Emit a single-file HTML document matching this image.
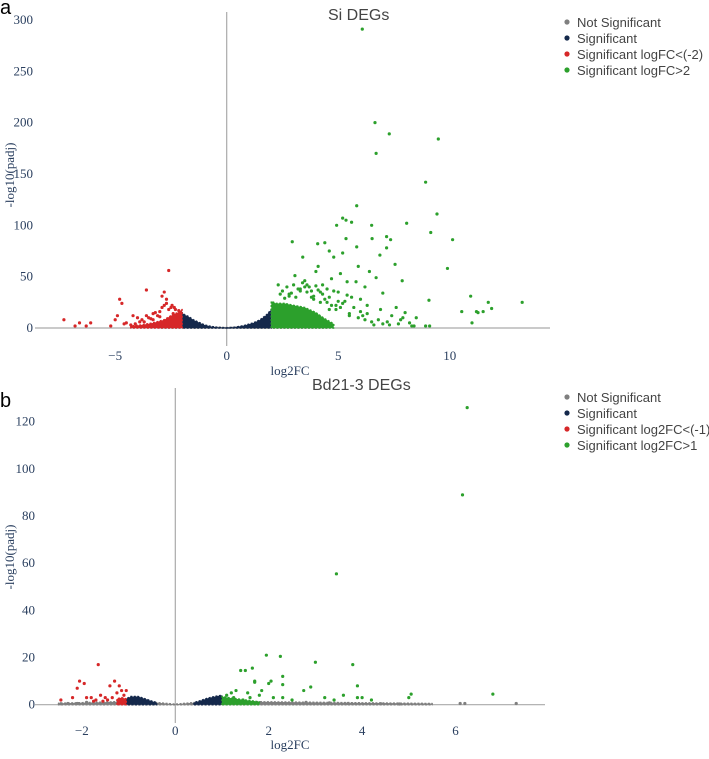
<!DOCTYPE html>
<html><head><meta charset="utf-8">
<style>
body{margin:0;background:#fff;width:709px;height:754px;overflow:hidden}
svg text{font-family:"Liberation Serif",serif}
.sans{font-family:"Liberation Sans",sans-serif !important}
</style></head>
<body>
<svg id="chart" width="709" height="754" viewBox="0 0 709 754"></svg>
<script>
// ---------- Panel A (Si DEGs) data ----------
const aRedX=[-7.3,-6.8,-6.6,-6.3,-6.1,-5.2,-5.0,-4.9,-4.8,-4.7,-4.6,-4.5,-4.3,-4.2,-4.0,-3.8,-3.6,-3.5,-3.3,-3.2,-3.1,-2.9,-2.8,-2.8,-2.7,-2.6,-2.6,-2.5,-2.4,-2.3,-2.2,-2.1,-3.9,-3.4,-3.0,-2.45,-2.35,-2.15,-4.1,-3.7,-3.6,-3.3,-3.0,-2.9,-2.7];
const aRedY=[8,2,5,2,5,2,8,12,28,24,4,5,3,12,10,8,37,10,8,15,12,31,35,22,28,56,18,20,14,18,10,15,6,9,11,22,20,17,4,6,12,14,16,20,24];
const aGreenX=[6.08,6.65,7.29,9.49,6.7,8.92,9.43,8.07,6.5,9.15,10.13,9.9,7.87,7.55,7.17,7.35,6.52,6.87,7.17,9.07,10.94,11.73,11.88,13.25,10.54,11.2,11.27,11.5,11.0,8.92,9.1,6.7,5.83,5.2,5.35,5.6,4.93,5.35,2.94,4.4,4.08,5.83,4.6,3.41,4.8,5.2,4.1,3.06,5.1,2.31,4.0,5.4,4.5,5.0,5.6,6.0,6.3,6.9,7.4,7.8,8.2,8.5,6.2,5.8,4.7,4.3,3.8,3.6,3.3,3.1,2.8,2.6,5.9,6.4,7.0,7.6,8.0,4.2,4.9,5.5,3.9,3.5,6.6,7.2,8.3,5.3,4.6,6.1,6.8,7.7,
2.5,2.7,2.9,3.2,3.4,3.6,3.7,3.9,4.1,4.3,4.4,4.6,4.8,5.0,5.2,5.4,5.7,6.0,6.3,2.4,2.8,3.0,3.3,3.5,3.8,4.0,4.2,4.5,4.7,4.9,5.1,5.5,5.9,6.2,6.5,7.0,7.3,7.9,8.4];
const aGreenY=[291,200,189,184,170,142,111,102,100,93,86,58,46,62,89,86,87,71,78,27,31,25,19,25,16,16,15,16,5,2,2,49,119,107,105,103,100,87,84,83,82,79,75,69,69,73,60,51,53,42,55,45,38,35,30,28,22,18,12,8,5,10,40,45,48,33,36,42,38,30,33,29,60,55,34,20,15,25,22,14,28,40,3,6,2,26,18,12,8,4,
36,40,34,38,44,35,40,31,37,42,28,30,36,26,24,32,20,16,14,33,31,42,36,46,30,41,35,25,22,18,20,12,10,8,6,4,3,10,2];
// dense-band envelopes: x positions and max -log10(padj)
const aNavyLX=[-2.0,-1.9,-1.7,-1.5,-1.2,-1.0,-0.7,-0.4,0];
const aNavyLY=[15,13,11,8,5,3,1.5,0.5,0];
const aNavyRX=[0,0.4,0.8,1.2,1.5,1.8,2.0];
const aNavyRY=[0,0.8,2.5,5,8,13,18];
const aRedBX=[-4.3,-3.8,-3.3,-2.8,-2.5,-2.2,-2.0];
const aRedBY=[2,3,5,8,12,15,18];
const aGreenBX=[2.0,2.2,2.6,3.0,3.5,4.0,4.4,4.8];
const aGreenBY=[26,24,24,22,20,15,9,4];
const aXTicks=[-5,0,5,10];
const aYTicks=[0,50,100,150,200,250,300];

// ---------- Panel B (Bd21-3 DEGs) data ----------
const bRedX=[-2.45,-2.2,-2.1,-2.05,-1.95,-1.9,-1.8,-1.7,-1.65,-1.6,-1.5,-1.4,-1.3,-1.25,-1.2,-1.15,-1.1,-1.05,-1.35,-1.45,-1.75,-1.55];
const bRedY=[2,3,7,10,9,3,3,2,17,4,3,8,10,5,8,6,4,6,3,2,1.5,1.5];
const bGreenX=[1.4,1.5,1.65,1.7,1.7,1.8,1.95,2.0,2.05,2.25,2.3,2.3,2.3,2.75,2.9,3.0,3.2,3.4,3.45,3.6,3.8,3.9,3.9,4.0,4.2,5.0,5.05,6.15,6.25,6.8,1.2,1.3,1.55,1.85,2.1,2.5,1.1,1.25,1.45,1.6];
const bGreenY=[14.5,14.5,15.5,10,9.5,4,21,9,10,20.5,12,8.5,3,6,7.5,18,3,2,55.5,4,17,8,3,3,2,3,4.5,89,126,4.5,5,6,5,6,3,2,4,3,2,3];
const bGreyX=[7.3,6.1,6.2,4.8,4.4,3.7,-2.3,-2.45,-2.1,-1.9,2.8,3.3];
const bGreyY=[0.5,0.5,0.5,0.3,0.4,0.5,0.5,0.4,0.5,1,1,0.8];
const bNavyLX=[-1.05,-0.95,-0.8,-0.65,-0.5,-0.4];
const bNavyLY=[2.5,3.5,3.5,2.5,1.5,0.9];
const bNavyRX=[0.4,0.55,0.7,0.85,1.0];
const bNavyRY=[0.9,1.8,2.8,3.5,4];
const bRedBX=[-1.25,-1.15,-1.05];
const bRedBY=[2.5,3,2.5];
const bGreenBX=[1.0,1.2,1.5,1.8];
const bGreenBY=[3.5,2.8,2,1.2];
const bGreyBX=[-2.5,-1.5,-1.0,-0.4,0,0.4,1.0,2.0,3.0,4.0,5.5];
const bGreyBY=[0.6,1.1,1.4,0.9,0.2,0.9,1.4,1.2,1.0,0.8,0.5];
const bXTicks=[-2,0,2,4,6];
const bYTicks=[0,20,40,60,80,100,120];

const NS='http://www.w3.org/2000/svg';
const svg=document.getElementById('chart');
function mk(tag,attrs,parent){const e=document.createElementNS(NS,tag);for(const k in attrs)e.setAttribute(k,attrs[k]);(parent||svg).appendChild(e);return e;}

function panel(p){
  const g=mk('g',{});
  
  
  const sx=v=>p.x0+v*p.kx, sy=v=>p.y0-v*p.ky;
  const xl=mk('line',{x1:p.xa0,x2:p.xa1,y1:p.y0,y2:p.y0,stroke:'#aaa','stroke-width':1.2},g);
  
  
  const yl=mk('line',{x1:p.x0,x2:p.x0,y1:p.ya0,y2:p.ya1,stroke:'#aaa','stroke-width':1.2},g);
  
  
  function band(X,Y,color,nm){
    let d='M'+sx(X[0])+','+sy(0);
    for(let i=0;i<X.length;i++)d+=' L'+sx(X[i])+','+sy(Y[i]);
    d+=' L'+sx(X[X.length-1])+','+sy(0)+'Z';
    const b=mk('path',{d:d,fill:color,stroke:color,'stroke-width':1.5,'stroke-linejoin':'round','stroke-dasharray':'2 1.5'},g);
    
    
  }
  p.bands.forEach(b=>band(b[0],b[1],b[2],b[3]));
  function pts(X,Y,color,nm){
    for(let i=0;i<X.length;i++){
      const c=mk('circle',{cx:sx(X[i]),cy:sy(Y[i]),r:1.6,fill:color},g);
      
      
    }
  }
  p.points.forEach(s=>pts(s[0],s[1],s[2],s[3]));
  p.xt.forEach(v=>{
    const t=mk('text',{x:sx(v),y:p.xtY,'text-anchor':'middle','font-size':13,fill:'#2a3f5f'},g);
    t.textContent=v<0?'\u2212'+(-v):String(v);
    
    
  });
  p.yt.forEach(v=>{
    const t=mk('text',{x:p.ytX,y:sy(v)+4,'text-anchor':'end','font-size':13,fill:'#2a3f5f'},g);
    t.textContent=String(v);
    
    
  });
  const xt=mk('text',{x:p.xlabX,y:p.xlabY,'text-anchor':'middle','font-size':13,fill:'#2a3f5f'},g);
  xt.textContent='log2FC';
  
  
  const yt=mk('text',{x:0,y:0,'text-anchor':'middle','font-size':13,fill:'#2a3f5f',transform:'translate(14,'+p.ylabY+') rotate(-90)'},g);
  yt.textContent='-log10(padj)';
  
  
  const ti=mk('text',{x:p.titleX,y:p.titleY,'font-size':16,fill:'#444',class:'sans'},g);
  ti.textContent=p.title;
  
  
  const lb=mk('text',{x:0,y:p.letterY,'font-size':20,fill:'#000',class:'sans'},g);
  lb.textContent=p.letter;
  
  
  p.legend.forEach((l,i)=>{
    const yy=p.legY+i*16;
    const c=mk('circle',{cx:567,cy:yy,r:2.6,fill:l[1]},g);
    
    
    const t=mk('text',{x:577,y:yy+5,'font-size':13,fill:'#444',class:'sans'},g);
    t.textContent=l[0];
    
    
  });
}
const GREY='#7f7f7f',NAVY='#14284b',RED='#d62728',GREEN='#2ca02c';
panel({name:'si-degs-panel',x0:226.7,kx:22.3,y0:328,ky:1.027,xa0:35,xa1:550,ya0:12,ya1:346,
  bands:[[[-3,-1,0,1,3,4.5],[0.6,1.5,0.4,1.5,1.5,0.8],GREY,'grey-band'],[aNavyLX,aNavyLY,NAVY,'navy-band-left'],[aNavyRX,aNavyRY,NAVY,'navy-band-right'],[aRedBX,aRedBY,RED,'red-band'],[aGreenBX,aGreenBY,GREEN,'green-band']],
  points:[[aRedX,aRedY,RED,'point-down'],[aGreenX,aGreenY,GREEN,'point-up']],
  xt:aXTicks,yt:aYTicks,xtY:360,ytX:33,xlabX:290,xlabY:375,ylabY:175,title:'Si DEGs',titleX:328,titleY:20,letter:'a',letterY:14,legY:22,
  legend:[['Not Significant',GREY],['Significant',NAVY],['Significant logFC<(-2)',RED],['Significant logFC>2',GREEN]]});
panel({name:'bd21-degs-panel',x0:175.3,kx:46.7,y0:704.7,ky:2.358,xa0:35,xa1:545,ya0:388,ya1:723,
  bands:[[bGreyBX,bGreyBY,GREY,'grey-band'],[bNavyLX,bNavyLY,NAVY,'navy-band-left'],[bNavyRX,bNavyRY,NAVY,'navy-band-right'],[bRedBX,bRedBY,RED,'red-band'],[bGreenBX,bGreenBY,GREEN,'green-band']],
  points:[[bGreyX,bGreyY,GREY,'point-ns'],[bRedX,bRedY,RED,'point-down'],[bGreenX,bGreenY,GREEN,'point-up']],
  xt:bXTicks,yt:bYTicks,xtY:735,ytX:35,xlabX:290,xlabY:749,ylabY:557,title:'Bd21-3 DEGs',titleX:312,titleY:390,letter:'b',letterY:407,legY:397,
  legend:[['Not Significant',GREY],['Significant',NAVY],['Significant log2FC<(-1)',RED],['Significant log2FC>1',GREEN]]});
</script>
</body></html>
